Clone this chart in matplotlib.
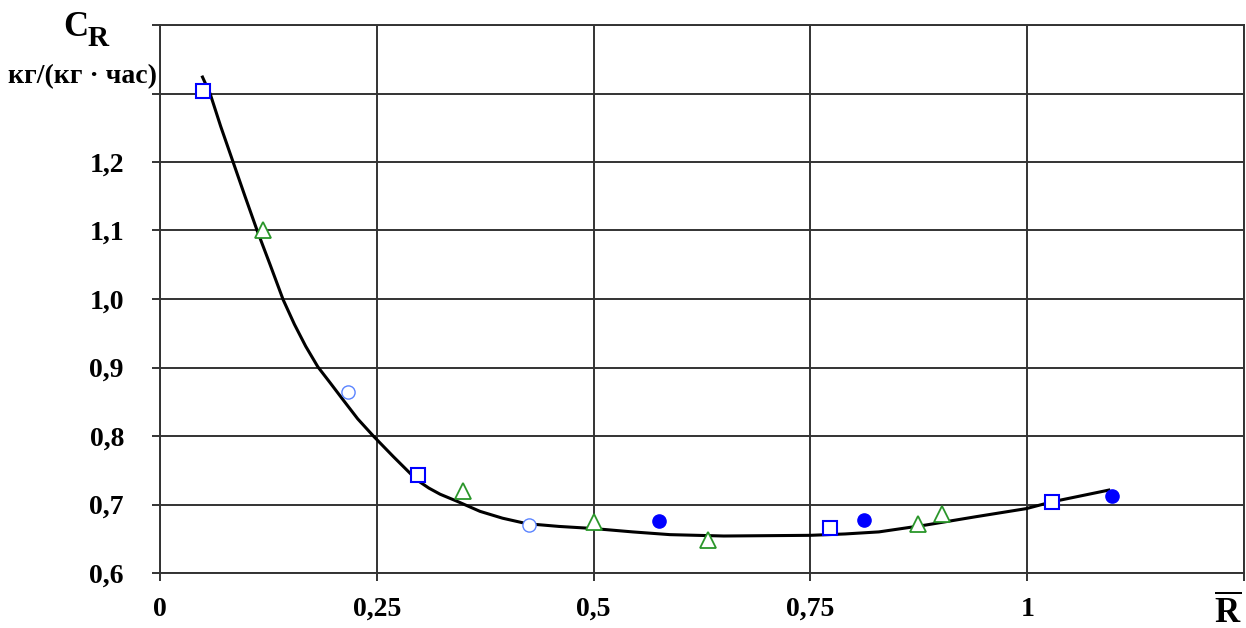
import matplotlib.pyplot as plt
import numpy as np

plt.rcParams['font.family'] = 'Liberation Serif'
plt.rcParams['font.weight'] = 'bold'
plt.rcParams['mathtext.fontset'] = 'custom'
plt.rcParams['mathtext.rm'] = 'Liberation Serif'
plt.rcParams['mathtext.bf'] = 'Liberation Serif:bold'

# trend curve
curve_x = [0.049, 0.058, 0.070, 0.084, 0.098, 0.112, 0.127, 0.142, 0.155, 0.168,
           0.182, 0.196, 0.211, 0.228, 0.246, 0.269, 0.296, 0.310, 0.323, 0.342,
           0.369, 0.395, 0.423, 0.460, 0.499, 0.545, 0.588, 0.650, 0.750, 0.790,
           0.829, 0.883, 0.940, 0.999, 1.029, 1.094]
curve_y = [1.324, 1.299, 1.252, 1.201, 1.150, 1.100, 1.050, 0.999, 0.963, 0.931,
           0.901, 0.878, 0.853, 0.825, 0.800, 0.770, 0.736, 0.724, 0.715, 0.705,
           0.690, 0.680, 0.672, 0.668, 0.665, 0.660, 0.656, 0.654, 0.655, 0.657,
           0.660, 0.670, 0.682, 0.694, 0.704, 0.721]

# measured points
sq_x = [0.050, 0.297, 0.773, 1.029]
sq_y = [1.304, 0.743, 0.666, 0.704]
tri_x = [0.119, 0.349, 0.500, 0.632, 0.874, 0.902]
tri_y = [1.100, 0.719, 0.675, 0.648, 0.671, 0.686]
oc_x = [0.217, 0.425]
oc_y = [0.864, 0.670]
fc_x = [0.575, 0.812, 1.098]
fc_y = [0.676, 0.677, 0.713]

xticks = [0, 0.25, 0.5, 0.75, 1, 1.25]
xlabels = ['0', '0,25', '0,5', '0,75', '1', '']
yticks = [0.6, 0.7, 0.8, 0.9, 1.0, 1.1, 1.2, 1.3, 1.4]
ylabels = ['0,6', '0,7', '0,8', '0,9', '1,0', '1,1', '1,2', '', '']

fig = plt.figure(figsize=(12.46, 6.28), dpi=100)
ax = fig.add_axes([160/1246, 1-573/628, (1244-160)/1246, (573-25)/628])

ax.plot(curve_x, curve_y, color='black', lw=2.2, zorder=3)
ax.plot(sq_x, sq_y, 's', ms=10, mfc='white', mec='#0000ff', mew=1.5, ls='none', zorder=4)
ax.plot(tri_x, tri_y, '^', ms=11, mfc='white', mec='#2a962a', mew=1.3, ls='none', zorder=4)
ax.plot(oc_x, oc_y, 'o', ms=9.5, mfc='white', mec='#5b84ff', mew=1.0, ls='none', zorder=4)
ax.plot(fc_x, fc_y, 'o', ms=9.5, mfc='#0000ff', mec='#0000ff', ls='none', zorder=4)

ax.set_xlim(0, 1.25)
ax.set_ylim(0.6, 1.4)
ax.set_xticks(xticks)
ax.set_xticklabels(xlabels)
ax.set_yticks(yticks)
ax.set_yticklabels(ylabels)
ax.grid(True, color='#333333', lw=1.4)
ax.set_axisbelow(True)
for s in ax.spines.values():
    s.set_color('#333333')
    s.set_linewidth(1.4)
ax.tick_params(axis='both', direction='out', length=6, width=1.4, color='#333333', labelsize=20)
ax.tick_params(axis='x', pad=11)
ax.tick_params(axis='y', pad=20)

fig.text(63/1246, 1-36/628, 'C', fontsize=25, fontweight='bold', ha='left', va='baseline')
fig.text(88/1246, 1-46/628, 'R', fontsize=21, fontweight='bold', ha='left', va='baseline')
fig.text(8/1246, 1-83/628, 'кг/(кг · час)', fontsize=20, fontweight='bold', ha='left', va='baseline')
fig.text(1228/1246, 1-622/628, r'$\overline{\mathbf{R}}$', fontsize=25, ha='center', va='baseline')

fig.savefig('out.png', dpi=100)
